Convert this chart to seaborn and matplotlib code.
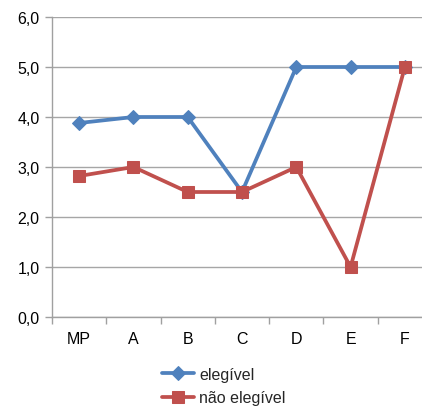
import matplotlib
matplotlib.use("Agg")
import matplotlib.pyplot as plt
import seaborn as sns
import pandas as pd
import numpy as np
from matplotlib.ticker import FixedLocator, FuncFormatter

categories = ["MP", "A", "B", "C", "D", "E", "F"]
elegivel = [3.88, 4.0, 4.0, 2.5, 5.0, 5.0, 5.0]
nao_elegivel = [2.82, 3.0, 2.5, 2.5, 3.0, 1.0, 5.0]
series_names = ["elegível", "não elegível"]
yticks = [0, 1, 2, 3, 4, 5, 6]

sns.set_theme(style="white")
plt.rcParams["font.family"] = ["Liberation Sans", "DejaVu Sans"]

fig = plt.figure(figsize=(4.22, 4.10), dpi=100)
ax = fig.add_axes([52/422, 1-318/410, 380/422, 300/410])

df1 = pd.DataFrame({"cat": categories, "v": elegivel})
df2 = pd.DataFrame({"cat": categories, "v": nao_elegivel})

sns.lineplot(data=df1, x="cat", y="v", sort=False, color="#4F81BD", lw=2.7,
             marker="D", markersize=7, markeredgecolor="#4F81BD", ax=ax, label=series_names[0])
sns.lineplot(data=df2, x="cat", y="v", sort=False, color="#C0504D", lw=2.7,
             marker="s", markersize=9, markeredgecolor="#C0504D", ax=ax, label=series_names[1])

ax.set_xlim(-0.5, len(categories) - 0.5)
ax.set_ylim(0, 6)
ax.set_yticks(yticks)
ax.yaxis.set_major_formatter(FuncFormatter(lambda v, p: f"{v:.1f}".replace(".", ",")))
ax.set_xticks(range(len(categories)))
ax.set_xticklabels(categories)
ax.xaxis.set_minor_locator(FixedLocator(np.arange(-0.5, len(categories), 1.0)))
ax.tick_params(axis="x", which="major", length=0, pad=10, labelsize=11.5, colors="black")
ax.tick_params(axis="x", which="minor", length=5, width=1, color="#A0A0A0", direction="out", bottom=True)
ax.tick_params(axis="y", which="major", length=5, width=1, color="#A0A0A0", direction="out", left=True, pad=4, labelsize=11.5, labelcolor="black")
ax.set_xlabel("")
ax.set_ylabel("")
ax.grid(axis="y", color="#A6A6A6", lw=1)
ax.set_axisbelow(True)
for s in ["top", "right"]:
    ax.spines[s].set_visible(False)
for s in ["left", "bottom"]:
    ax.spines[s].set_color("#A0A0A0")
    ax.spines[s].set_linewidth(1)

ax.legend_.remove()
h, l = ax.get_legend_handles_labels()
fig.legend(h, l, loc="center", bbox_to_anchor=(224/422, 1-387/410), frameon=False,
           fontsize=11.5, handlelength=2.0, labelspacing=0.55, handletextpad=0.3)

fig.savefig("out.png", dpi=100)
